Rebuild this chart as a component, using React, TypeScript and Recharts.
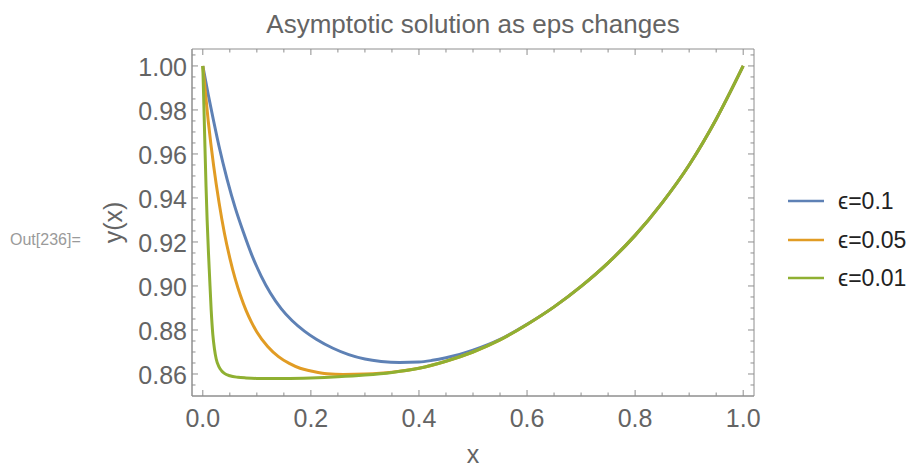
import React from 'react';
import { LineChart, Line, XAxis, YAxis, ReferenceArea, Legend } from 'recharts';

// ---- data ----
const xEps01 = [0, 0.01, 0.02, 0.03, 0.045, 0.06, 0.075, 0.09, 0.108, 0.125, 0.145, 0.165, 0.188, 0.21, 0.241, 0.27, 0.3, 0.33, 0.364, 0.4, 0.425, 0.45, 0.475, 0.5, 0.55, 0.6, 0.65, 0.7, 0.75, 0.8, 0.85, 0.9, 0.95, 1.0];
const yEps01 = [1.0, 0.987, 0.975, 0.9635, 0.9485, 0.9355, 0.9245, 0.9145, 0.9045, 0.8968, 0.8897, 0.8843, 0.8795, 0.8758, 0.8717, 0.8688, 0.8668, 0.8657, 0.8652, 0.8654, 0.8662, 0.8674, 0.8689, 0.8708, 0.8757, 0.8826, 0.8905, 0.8998, 0.9105, 0.923, 0.9378, 0.955, 0.9758, 1.0];

const xEps005 = [0, 0.01, 0.02, 0.03, 0.04, 0.05, 0.06, 0.07, 0.08, 0.09, 0.1, 0.12, 0.14, 0.16, 0.18, 0.2, 0.23, 0.26, 0.3, 0.35, 0.4, 0.45, 0.5, 0.55, 0.6, 0.65, 0.7, 0.75, 0.8, 0.85, 0.9, 0.95, 1.0];
const yEps005 = [1.0, 0.975, 0.9547, 0.938, 0.924, 0.9127, 0.9032, 0.8954, 0.8889, 0.8836, 0.8791, 0.8725, 0.8679, 0.8648, 0.8626, 0.8614, 0.8601, 0.8598, 0.86, 0.8608, 0.8626, 0.8658, 0.87, 0.8755, 0.8825, 0.8905, 0.8998, 0.9105, 0.923, 0.9378, 0.955, 0.9758, 1.0];

const xEps001 = [0, 0.002, 0.004, 0.006, 0.008, 0.0105, 0.0124, 0.0155, 0.0185, 0.0215, 0.0248, 0.03, 0.035, 0.04, 0.05, 0.065, 0.08, 0.1, 0.15, 0.2, 0.25, 0.3, 0.35, 0.4, 0.45, 0.5, 0.55, 0.6, 0.65, 0.7, 0.75, 0.8, 0.85, 0.9, 0.95, 1.0];
const yEps001 = [1.0, 0.982, 0.963, 0.945, 0.93, 0.915, 0.905, 0.889, 0.878, 0.8715, 0.8668, 0.8632, 0.8614, 0.8603, 0.8592, 0.8585, 0.8582, 0.858, 0.858, 0.8582, 0.8587, 0.8595, 0.8607, 0.8626, 0.8658, 0.87, 0.8755, 0.8825, 0.8905, 0.8998, 0.9105, 0.923, 0.9378, 0.955, 0.9758, 1.0];

const seriesNames = ['\u03f5=0.1', '\u03f5=0.05', '\u03f5=0.01'];

const xMajorTicks = [0, 0.2, 0.4, 0.6, 0.8, 1.0];
const xMinorTicks = [0.05, 0.1, 0.15, 0.25, 0.3, 0.35, 0.45, 0.5, 0.55, 0.65, 0.7, 0.75, 0.85, 0.9, 0.95];
const yMajorTicks = [0.86, 0.88, 0.9, 0.92, 0.94, 0.96, 0.98, 1.0];
const yMinorTicks = [0.855, 0.865, 0.87, 0.875, 0.885, 0.89, 0.895, 0.905, 0.91, 0.915, 0.925, 0.93, 0.935, 0.945, 0.95, 0.955, 0.965, 0.97, 0.975, 0.985, 0.99, 0.995, 1.005];

const titleText = 'Asymptotic solution as eps changes';
const xLabel = 'x';
const yLabel = 'y(x)';
const outLabel = 'Out[236]=';

// ---- layout / style ----
const W = 913;
const H = 467;
const PLOT_LEFT = 192;
const PLOT_TOP = 49;
const PLOT_RIGHT = 754;
const PLOT_BOTTOM = 396;
const Y_AXIS_W = 60;
const X_AXIS_H = 40;
const X_DOMAIN: [number, number] = [-0.02, 1.02];
const Y_DOMAIN: [number, number] = [0.85, 1.0077];

const FONT = '"Liberation Sans", Arial, "DejaVu Sans", sans-serif';
const TEXT_COLOR = '#646464';
const FRAME_COLOR = '#8e8e8e';
const COLORS = ['#5E81B5', '#E19C24', '#8FB032'];

const toRows = (xs: number[], ys: number[]) => xs.map((x, i) => ({ x, y: ys[i] }));
const seriesData = [toRows(xEps01, yEps01), toRows(xEps005, yEps005), toRows(xEps001, yEps001)];

const isIn = (arr: number[], v: number) => arr.some((a) => Math.abs(a - v) < 1e-9);

const XTick = (props: any) => {
  const { x, payload } = props;
  const v = payload.value as number;
  const major = isIn(xMajorTicks, v);
  const len = major ? 6 : 3.5;
  return (
    <g>
      <line x1={x} y1={PLOT_BOTTOM} x2={x} y2={PLOT_BOTTOM - len} stroke={FRAME_COLOR} strokeWidth={1} />
      <line x1={x} y1={PLOT_TOP} x2={x} y2={PLOT_TOP + len} stroke={FRAME_COLOR} strokeWidth={1} />
      {major && (
        <text x={x} y={PLOT_BOTTOM + 30.5} textAnchor="middle" fill={TEXT_COLOR} fontSize={25} fontFamily={FONT}>
          {v.toFixed(1)}
        </text>
      )}
    </g>
  );
};

const YTick = (props: any) => {
  const { y, payload } = props;
  const v = payload.value as number;
  const major = isIn(yMajorTicks, v);
  const len = major ? 6 : 3.5;
  return (
    <g>
      <line x1={PLOT_LEFT} y1={y} x2={PLOT_LEFT + len} y2={y} stroke={FRAME_COLOR} strokeWidth={1} />
      <line x1={PLOT_RIGHT} y1={y} x2={PLOT_RIGHT - len} y2={y} stroke={FRAME_COLOR} strokeWidth={1} />
      {major && (
        <text x={PLOT_LEFT - 5} y={y + 10} textAnchor="end" fill={TEXT_COLOR} fontSize={25} fontFamily={FONT}>
          {v.toFixed(2)}
        </text>
      )}
    </g>
  );
};

const LegendContent = (props: any) => {
  const payload = ((props.payload || []) as any[]).slice();
  payload.sort((a: any, b: any) => seriesNames.indexOf(a.value) - seriesNames.indexOf(b.value));
  return (
    <div style={{ fontFamily: FONT }}>
      {payload.map((p: any, i: number) => (
        <div key={i} style={{ display: 'flex', alignItems: 'center', height: 38.5 }}>
          <svg width={36} height={6} style={{ display: 'block' }}>
            <line x1={0} y1={3} x2={36} y2={3} stroke={p.color} strokeWidth={2.5} />
          </svg>
          <span style={{ marginLeft: 14, fontSize: 23, color: '#222', lineHeight: '26px' }}>{p.value}</span>
        </div>
      ))}
    </div>
  );
};

export default function App() {
  const xTicks = [...xMajorTicks, ...xMinorTicks].sort((a, b) => a - b);
  const yTicks = [...yMajorTicks, ...yMinorTicks].sort((a, b) => a - b);
  return (
    <div style={{ position: 'absolute', left: 0, top: 0, width: W, height: H, background: '#fff' }}>
      <LineChart
        width={W}
        height={H}
        margin={{ top: PLOT_TOP, left: PLOT_LEFT - Y_AXIS_W, right: W - PLOT_RIGHT, bottom: H - PLOT_BOTTOM - X_AXIS_H }}
      >
        <XAxis
          type="number"
          dataKey="x"
          domain={X_DOMAIN}
          allowDataOverflow
          ticks={xTicks}
          interval={0}
          tick={XTick}
          tickLine={false}
          tickSize={0}
          tickMargin={0}
          height={X_AXIS_H}
          axisLine={{ stroke: FRAME_COLOR, strokeWidth: 1 }}
        />
        <YAxis
          type="number"
          domain={Y_DOMAIN}
          allowDataOverflow
          ticks={yTicks}
          interval={0}
          tick={YTick}
          tickLine={false}
          tickSize={0}
          tickMargin={0}
          width={Y_AXIS_W}
          axisLine={{ stroke: FRAME_COLOR, strokeWidth: 1 }}
        />
        <ReferenceArea
          x1={X_DOMAIN[0]}
          x2={X_DOMAIN[1]}
          y1={Y_DOMAIN[0]}
          y2={Y_DOMAIN[1]}
          fill="none"
          fillOpacity={0}
          stroke={FRAME_COLOR}
          strokeWidth={1}
          ifOverflow="visible"
        />
        {seriesData.map((d, i) => (
          <Line
            key={seriesNames[i]}
            data={d}
            dataKey="y"
            name={seriesNames[i]}
            type="monotone"
            stroke={COLORS[i]}
            strokeWidth={3}
            dot={false}
            activeDot={false}
            isAnimationActive={false}
          />
        ))}
        <Legend
          layout="vertical"
          align="center"
          verticalAlign="middle"
          content={LegendContent}
          wrapperStyle={{ left: 788, top: 182, width: 125 }}
        />
      </LineChart>
      <svg width={W} height={H} style={{ position: 'absolute', left: 0, top: 0, pointerEvents: 'none' }}>
        <text x={(PLOT_LEFT + PLOT_RIGHT) / 2} y={33} textAnchor="middle" fill={TEXT_COLOR} fontSize={26} fontFamily={FONT}>
          {titleText}
        </text>
        <text x={473} y={463} textAnchor="middle" fill={TEXT_COLOR} fontSize={25} fontFamily={FONT}>
          {xLabel}
        </text>
        <text transform={`translate(122, ${(PLOT_TOP + PLOT_BOTTOM) / 2}) rotate(-90)`} textAnchor="middle" fill={TEXT_COLOR} fontSize={25} fontFamily={FONT}>
          {yLabel}
        </text>
        <text x={10} y={245} fill="#9a9a9a" fontSize={16} fontFamily={FONT}>
          {outLabel}
        </text>
      </svg>
    </div>
  );
}
